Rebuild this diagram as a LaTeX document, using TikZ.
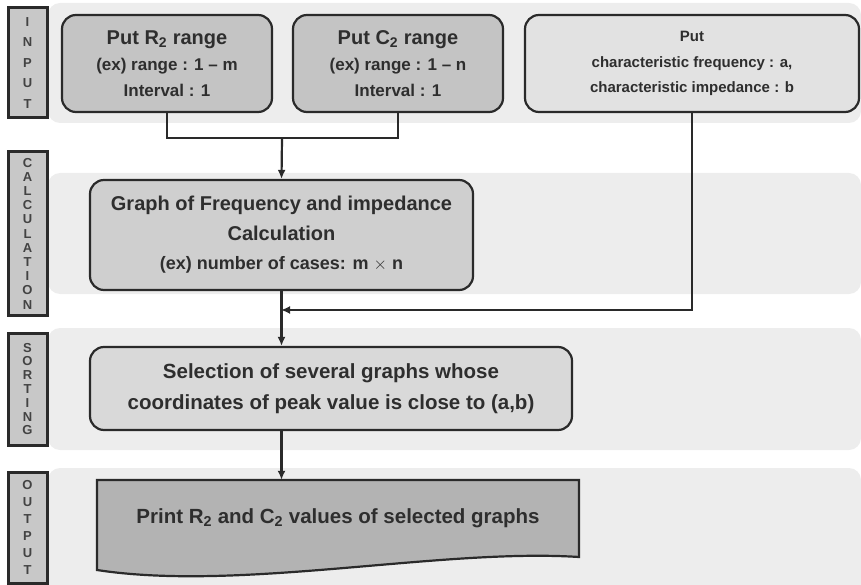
\documentclass[tikz,border=0pt]{standalone}
\usepackage{fontspec}
\setmainfont{Liberation Sans}
\usetikzlibrary{arrows.meta, positioning}

\definecolor{bandgray}{HTML}{EDEDED}
\definecolor{sidegray}{HTML}{C8C8C8}
\definecolor{darkbox}{HTML}{C4C4C4}
\definecolor{lightbox}{HTML}{E2E2E2}
\definecolor{midbox}{HTML}{CFCFCF}
\definecolor{selbox}{HTML}{D9D9D9}
\definecolor{printbox}{HTML}{B3B3B3}
\definecolor{linegray}{HTML}{2A2A2A}
\definecolor{textgray}{HTML}{2E2E2E}

\newcommand{\bigline}[1]{{\fontsize{20}{26}\selectfont #1}}

\begin{document}
\begin{tikzpicture}[
    x=1pt, y=-1pt,
    band style/.style={fill=bandgray, draw=none, rounded corners=12pt},
    side box/.style={draw=linegray, fill=sidegray, line width=3pt, minimum width=39pt,
        align=center, inner sep=0pt, text=textgray!90, font=\fontsize{13}{#1}\selectfont},
    proc box/.style={draw=linegray, line width=2.2pt, rounded corners=14pt, align=center,
        inner sep=0pt, text=textgray, font=\bfseries\fontsize{17}{26}\selectfont},
    arr/.style={draw=linegray, line width=2.2pt, -{Latex[length=9pt, width=8pt]}}
]
\useasboundingbox (0,0) rectangle (861,585);

% Background bands
\fill[band style] (48,3) rectangle (861,123);
\fill[band style] (48,173) rectangle (861,294);
\fill[band style] (48,328) rectangle (861,450);
\fill[band style] (48,468) rectangle (861,600);

% Stage labels
\node[side box=20.5, minimum height=110pt] (lin) at (27.5,63) {\bfseries I\\\bfseries N\\\bfseries P\\\bfseries U\\\bfseries T};
\node[side box=14.2, minimum height=163pt] (lcalc) at (27.5,233.5)
    {\bfseries C\\\bfseries A\\\bfseries L\\\bfseries C\\\bfseries U\\\bfseries L\\\bfseries A\\\bfseries T\\\bfseries I\\\bfseries O\\\bfseries N};
\node[side box=13.8, minimum height=112pt] (lsort) at (27.5,389)
    {\bfseries S\\\bfseries O\\\bfseries R\\\bfseries T\\\bfseries I\\\bfseries N\\\bfseries G};
\node[side box=17, minimum height=111pt] (lout) at (27.5,527.5)
    {\bfseries O\\\bfseries U\\\bfseries T\\\bfseries P\\\bfseries U\\\bfseries T};

% Input boxes
\node[proc box, fill=darkbox, minimum width=210pt, minimum height=97pt] (r2) at (167,63.5)
    {\bigline{Put R\textsubscript{2} range}\\(ex) range : 1 -- m\\Interval : 1};
\node[proc box, fill=darkbox, minimum width=210pt, minimum height=97pt] (c2) at (398,63.5)
    {\bigline{Put C\textsubscript{2} range}\\(ex) range : 1 -- n\\Interval : 1};
\node[proc box, fill=lightbox, minimum width=334pt, minimum height=97pt,
      font=\bfseries\fontsize{15}{25.5}\selectfont] (put) at (692,63.5)
    {Put\\characteristic frequency : a,\\characteristic impedance : b};

% Calculation
\node[proc box, fill=midbox, minimum width=383pt, minimum height=110pt,
      font=\bfseries\fontsize{18}{29.5}\selectfont] (graph) at (281.5,235)
    {\bigline{Graph of Frequency and impedance}\\\bigline{Calculation}\\(ex) number of cases: m $\times$ n};

% Sorting
\node[proc box, fill=selbox, minimum width=482pt, minimum height=83pt,
      font=\bfseries\fontsize{20.5}{31}\selectfont] (select) at (331,388.5)
    {Selection of several graphs whose\\coordinates of peak value is close to (a,b)};

% Output (document shape)
\filldraw[draw=linegray, fill=printbox, line width=2.2pt]
    (97,480) -- (579,480) -- (579,557) .. controls (440,548) and (240,592) .. (97,570) -- cycle;
\node[inner sep=0pt, minimum width=482pt, minimum height=77pt, text=textgray,
      font=\bfseries\fontsize{20.5}{26}\selectfont] (print) at (338,518.5)
    {Print R\textsubscript{2} and C\textsubscript{2} values of selected graphs};

% Connectors
\coordinate (jn) at (282,138);
\coordinate (mg) at (282,310);
\draw[draw=linegray, line width=2.2pt] (r2.south) |- (jn) -| (c2.south);
\draw[arr] (jn) -- (graph.north);
\draw[arr, shorten >=-1pt] (put.south) |- (mg);
\draw[arr] (graph.south) -- (graph.south |- select.north);
\draw[arr] (graph.south |- select.south) -- (graph.south |- print.north);

\end{tikzpicture}
\end{document}
